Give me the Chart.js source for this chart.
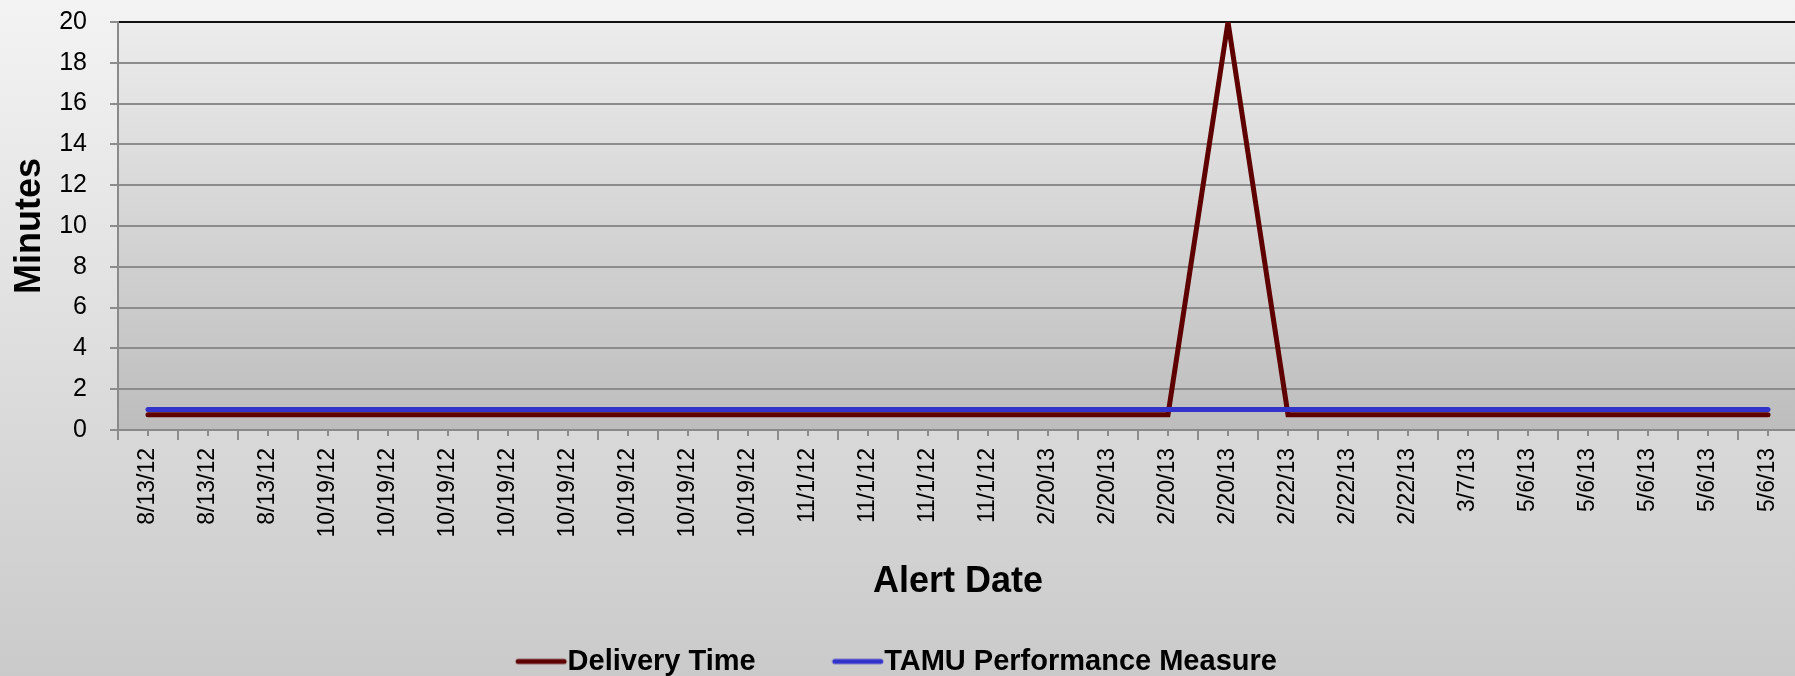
<!DOCTYPE html>
<html>
<head>
<meta charset="utf-8">
<title>Delivery Time</title>
<script src="https://cdn.jsdelivr.net/npm/chart.js@4.4.1/dist/chart.umd.min.js"></script>
<style>
  html, body { margin: 0; padding: 0; overflow: hidden; background: #dcdcdc; }
  #wrap { position: relative; width: 1800px; height: 676px; }
</style>
</head>
<body>
<div id="wrap"><canvas id="chart"></canvas></div>
<script>
// Alert dates (category axis)
const alertDates = [
  '8/13/12', '8/13/12', '8/13/12',
  '10/19/12', '10/19/12', '10/19/12', '10/19/12', '10/19/12', '10/19/12', '10/19/12', '10/19/12',
  '11/1/12', '11/1/12', '11/1/12', '11/1/12',
  '2/20/13', '2/20/13', '2/20/13', '2/20/13',
  '2/22/13', '2/22/13', '2/22/13',
  '3/7/13',
  '5/6/13', '5/6/13', '5/6/13', '5/6/13', '5/6/13'
];

// Minutes
const deliveryTime = [
  0.75, 0.75, 0.75,
  0.75, 0.75, 0.75, 0.75, 0.75, 0.75, 0.75, 0.75,
  0.75, 0.75, 0.75, 0.75,
  0.75, 0.75, 0.75, 20,
  0.75, 0.75, 0.75,
  0.75,
  0.75, 0.75, 0.75, 0.75, 0.75
];

const performanceMeasure = [
  1, 1, 1,
  1, 1, 1, 1, 1, 1, 1, 1,
  1, 1, 1, 1,
  1, 1, 1, 1,
  1, 1, 1,
  1,
  1, 1, 1, 1, 1
];

const yTicks = [0, 2, 4, 6, 8, 10, 12, 14, 16, 18, 20];

const FONT = "'Liberation Sans', Arial, sans-serif";
const RED = '#5e0000';
const BLUE = '#3333cc';

// legend sample: a short thick line, wider than the legend box so it runs up to the text
function legendLine(color) {
  const c = document.createElement('canvas');
  c.width = 54;
  c.height = 8;
  const g = c.getContext('2d');
  g.strokeStyle = color;
  g.lineWidth = 5;
  g.lineCap = 'round';
  g.beginPath();
  g.moveTo(4, 4);
  g.lineTo(50, 4);
  g.stroke();
  return c;
}

// Grey gradients behind the whole chart and the plot area (Excel-style fill)
const backdrop = {
  id: 'backdrop',
  beforeDraw(chart) {
    const ctx = chart.ctx;
    const a = chart.chartArea;
    ctx.save();
    let g = ctx.createLinearGradient(0, 0, 0, chart.height);
    g.addColorStop(0, '#f3f3f3');
    g.addColorStop(1, '#cacaca');
    ctx.fillStyle = g;
    ctx.fillRect(0, 0, chart.width, chart.height);
    g = ctx.createLinearGradient(0, a.top, 0, a.bottom);
    g.addColorStop(0, '#ececec');
    g.addColorStop(1, '#bdbdbd');
    ctx.fillStyle = g;
    ctx.fillRect(a.left, a.top, a.right - a.left, a.bottom - a.top);
    ctx.restore();
  }
};

// Short minor tick marks at each category centre
const minorTicks = {
  id: 'minorTicks',
  afterDraw(chart) {
    const x = chart.scales.x;
    const ctx = chart.ctx;
    const bottom = chart.chartArea.bottom;
    ctx.save();
    ctx.strokeStyle = '#8c8c8c';
    ctx.lineWidth = 2;
    ctx.beginPath();
    for (let i = 0; i < alertDates.length; i++) {
      const px = x.getPixelForTick(i);
      ctx.moveTo(px, bottom);
      ctx.lineTo(px, bottom + 6);
    }
    ctx.stroke();
    ctx.restore();
  }
};

new Chart(document.getElementById('chart'), {
  type: 'line',
  data: {
    labels: alertDates,
    datasets: [
      {
        label: 'Delivery Time',
        data: deliveryTime,
        borderColor: RED,
        backgroundColor: RED,
        borderWidth: 5,
        pointRadius: 0,
        pointStyle: legendLine(RED),
        tension: 0,
        borderCapStyle: 'round',
        order: 1
      },
      {
        label: 'TAMU Performance Measure',
        data: performanceMeasure,
        borderColor: BLUE,
        backgroundColor: BLUE,
        borderWidth: 5,
        pointRadius: 0,
        pointStyle: legendLine(BLUE),
        tension: 0,
        borderCapStyle: 'round',
        order: 0
      }
    ]
  },
  options: {
    responsive: true,
    maintainAspectRatio: false,
    animation: false,
    layout: { padding: { top: 22, left: 8, right: 2, bottom: -10 } },
    scales: {
      x: {
        offset: true,
        afterFit(scale) {
          // fixed band under the plot: tick labels + title
          scale.height = 127;
          scale.paddingLeft = 0;
          scale.paddingRight = 0;
        },
        grid: {
          display: true,
          drawOnChartArea: false,
          offset: true,
          color: '#8c8c8c',
          lineWidth: 2,
          tickLength: 10
        },
        border: { display: true, color: '#8a8a8a', width: 2 },
        ticks: {
          autoSkip: false,
          maxRotation: 90,
          minRotation: 90,
          padding: 8,
          color: '#000',
          font: { family: FONT, size: 23 }
        },
        title: {
          display: true,
          text: 'Alert Date',
          color: '#000',
          font: { family: FONT, size: 36, weight: 'bold' },
          padding: { top: 0, bottom: -47 }
        }
      },
      y: {
        min: 0,
        max: 20,
        afterBuildTicks(scale) {
          scale.ticks = yTicks.map(v => ({ value: v }));
        },
        afterFit(scale) {
          scale.width = 110;
          scale.paddingTop = 0;
          scale.paddingBottom = 0;
        },
        grid: {
          color: ctx => (ctx.tick && ctx.tick.value === 20 ? '#111' : '#8c8c8c'),
          lineWidth: 2,
          tickLength: 8,
          tickColor: '#8c8c8c'
        },
        border: { display: true, color: '#8a8a8a', width: 2 },
        ticks: {
          padding: 23,
          color: '#000',
          font: { family: FONT, size: 25 }
        },
        title: {
          display: true,
          text: 'Minutes',
          color: '#000',
          font: { family: FONT, size: 36, weight: 'bold' },
          padding: { top: 0, bottom: 0 }
        }
      }
    },
    plugins: {
      legend: {
        position: 'bottom',
        labels: {
          usePointStyle: true,
          pointStyleWidth: 24,
          padding: 90,
          color: '#000',
          font: { family: FONT, size: 29, weight: 'bold' },
          sort: (a, b) => a.datasetIndex - b.datasetIndex
        }
      },
      tooltip: { enabled: false }
    }
  },
  plugins: [backdrop, minorTicks]
});
</script>
</body>
</html>
